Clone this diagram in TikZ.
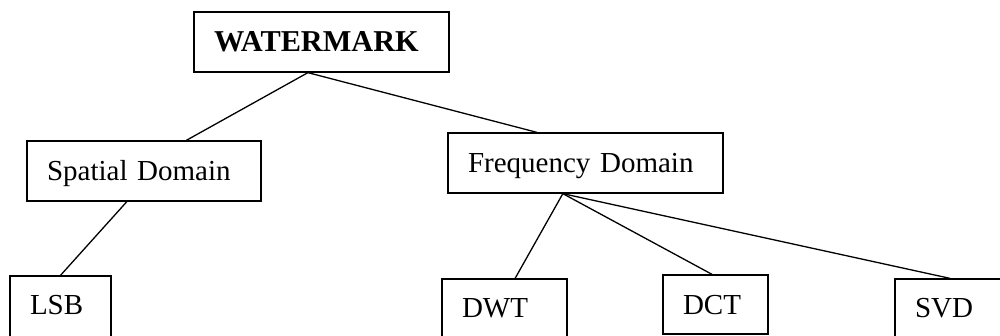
\documentclass[tikz,border=0pt]{standalone}
\usepackage{fontspec}
\setmainfont{Liberation Serif}
\usepackage{tikz}
\usetikzlibrary{calc}

\begin{document}
\begin{tikzpicture}[x=1pt, y=-1pt,
  box/.style={draw, line width=1.3pt, inner xsep=20pt, align=left,
              text height=19.2pt, text depth=0pt, minimum height=60pt,
              font=\fontsize{29}{34}\selectfont},
  cut/.style={minimum height=70pt, text depth=12pt},
  link/.style={line width=1.3pt}
]
  \useasboundingbox (0,0) rectangle (1000,336);
  \clip (0,0) rectangle (1000,336);
  % top level
  \node[box, text width=215pt, font=\fontsize{30.3}{35}\selectfont\bfseries] (wm) at (321.5,42) {WATERMARK};
  % domains
  \node[box, text width=194pt] (sd) at (144,171) {Spatial Domain};
  \node[box, text width=235pt] (fd) at (585.5,163) {Frequency Domain};
  % techniques
  \node[box, cut, text width=61pt] (lsb) at (60.5,311) {LSB};
  \node[box, cut, text width=85pt] (dwt) at (504.5,314) {DWT};
  \node[box, text width=65pt, minimum height=59pt] (dct) at (715.5,304.5) {DCT};
  \node[box, cut, text width=85pt] (svd) at (957.5,314) {SVD};
  \coordinate (wmb) at ($(wm.south west)!0.447!(wm.south east)$);
  \coordinate (fdb) at ($(fd.south west)!0.418!(fd.south east)$);
  \draw[link] (wmb) -- ($(sd.north west)!0.68!(sd.north east)$);
  \draw[link] (wmb) -- ($(fd.north west)!0.324!(fd.north east)$);
  \draw[link] ($(sd.south west)!0.427!(sd.south east)$) -- (lsb.north);
  \draw[link] (fdb) -- ($(dwt.north west)!0.584!(dwt.north east)$);
  \draw[link] (fdb) -- ($(dct.north west)!0.467!(dct.north east)$);
  \draw[link] (fdb) -- ($(svd.north west)!0.44!(svd.north east)$);
\end{tikzpicture}
\end{document}
